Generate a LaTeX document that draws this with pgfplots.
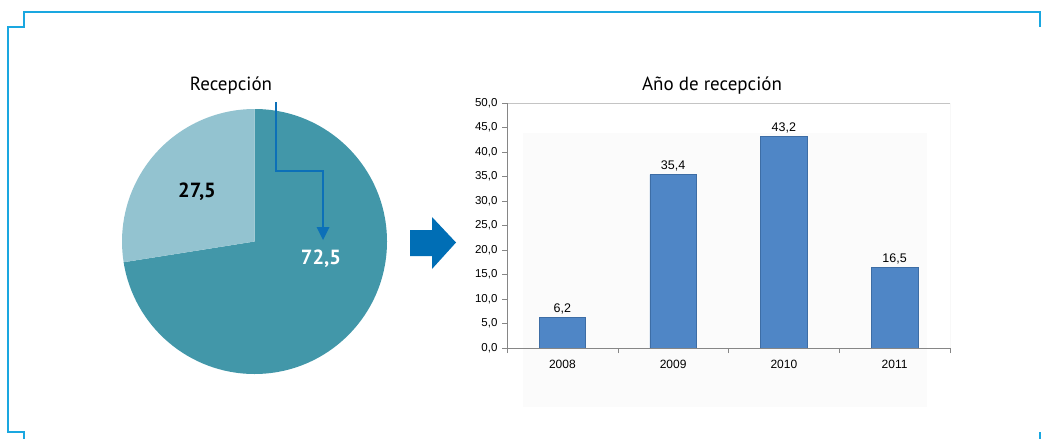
\documentclass[border=0pt]{standalone}
\usepackage{pgfplots}
\pgfplotsset{compat=1.18}
\usepackage{fontspec}
\setmainfont{PT Sans}
\newfontfamily\arial{Liberation Sans}

\definecolor{framecol}{HTML}{1AA7E0}
\definecolor{piedark}{HTML}{4297A9}
\definecolor{pielight}{HTML}{93C3D0}
\definecolor{conn}{HTML}{0C70B8}
\definecolor{bigarrow}{HTML}{006EB5}
\definecolor{barfill}{HTML}{4F86C6}
\definecolor{baredge}{HTML}{3D6DA5}
\definecolor{axdark}{HTML}{868686}
\definecolor{axlight}{HTML}{C4C4C4}

\begin{document}
\begin{tikzpicture}[x=1pt,y=-1pt]
\path[use as bounding box] (0,0) rectangle (1042,439);

% frame brackets
\draw[framecol, line width=2pt] (23.5,439) -- (23.5,432) -- (8,432) -- (8,27)
  -- (23.5,27) -- (23.5,12) -- (1040,12) -- (1040,27);
\draw[framecol, line width=2pt] (1040,432) -- (1040,439);

% pie: Recepción
\begin{axis}[at={(254.5pt,-241.5pt)}, anchor=center,
  width=265pt, height=265pt, scale only axis, hide axis,
  xmin=-1, xmax=1, ymin=-1, ymax=1]
\def\pa{72.5}
\def\pb{27.5}
\fill[piedark] (axis cs:0,0) -- (axis cs:0,1) arc[start angle=90, delta angle=-\pa*3.6, radius=132.5pt] -- cycle;
\fill[pielight] (axis cs:0,0) -- (axis cs:0,1) arc[start angle=90, delta angle=\pb*3.6, radius=132.5pt] -- cycle;
\end{axis}

\node[font=\fontsize{19}{22}\selectfont, anchor=base] at (231,90) {Recepción};
\node[font=\bfseries\fontsize{20.5}{22}\selectfont] at (197,192) {27,5};
\node[font=\bfseries\fontsize{20.5}{22}\selectfont, text=white] at (321,259) {72,5};

% connector arrow
\draw[conn, line width=1.6pt] (276,102) -- (276,171) -- (323,171) -- (323,229);
\fill[conn] (316.5,227) -- (329.5,227) -- (323,240) -- cycle;

% big arrow
\fill[bigarrow] (410,230) -- (432,230) -- (432,217) -- (456,242.5) -- (432,269)
  -- (432,256) -- (410,256) -- cycle;

% faint plot backdrop
\fill[black!1.5] (523,133) rectangle (927,407);

\node[font=\fontsize{19}{22}\selectfont, anchor=base] at (712,90) {Año de recepción};

% bars: Año de recepción
\begin{axis}[at={(507pt,-348pt)}, anchor=south west,
  width=443pt, height=245pt, scale only axis,
  xmin=-0.5, xmax=3.5, ymin=0, ymax=50,
  ybar, bar width=0.42, bar shift=0pt,
  axis line style={draw=none},
  xtick pos=lower, ytick pos=left,
  xtick={0,1,2,3}, xticklabels={2008,2009,2010,2011},
  major x tick style={draw=none},
  minor xtick={-0.5,0.5,1.5,2.5,3.5},
  ytick={0,5,...,50},
  tick align=outside, major tick length=5pt, minor tick length=5pt,
  tick style={axdark, thin},
  /pgf/number format/assume math mode=true,
  yticklabel={\pgfmathprintnumber[fixed, fixed zerofill, precision=1, use comma]{\tick}},
  yticklabel style={font=\arial\fontsize{11.5}{12}\selectfont, xshift=-1pt},
  xticklabel style={font=\arial\fontsize{12}{12}\selectfont, yshift=-4pt},
  nodes near coords={\pgfmathprintnumber[fixed, fixed zerofill, precision=1, use comma]{\pgfplotspointmeta}},
  nodes near coords style={font=\arial\fontsize{12.5}{13}\selectfont, text=black, inner sep=3pt},
]
\addplot[fill=barfill, draw=baredge, line width=0.6pt] coordinates {
  (0,6.2) (1,35.4) (2,43.2) (3,16.5)
};
\draw[axlight, thin] (rel axis cs:0,1) -- (rel axis cs:1,1) -- (rel axis cs:1,0);
\draw[axdark, thin] (rel axis cs:0,1) -- (rel axis cs:0,0) -- (rel axis cs:1,0);
\end{axis}
\end{tikzpicture}
\end{document}
